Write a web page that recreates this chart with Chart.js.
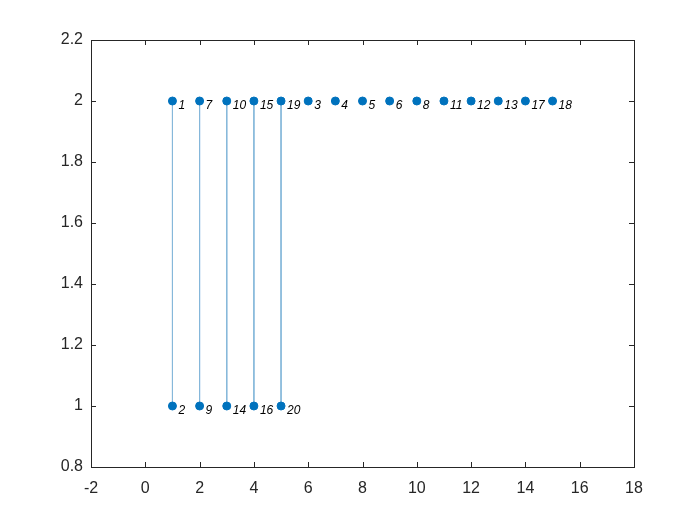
<!DOCTYPE html>
<html>
<head>
<meta charset="utf-8">
<script src="https://cdn.jsdelivr.net/npm/chart.js@4"></script>
<style>
  html, body { margin: 0; padding: 0; background: #fff; }
  #wrap { width: 700px; height: 525px; }
</style>
</head>
<body>
<div id="wrap"><canvas id="c"></canvas></div>
<script>
// --- datos del grafo ---
const topX = [1, 2, 3, 4, 5, 6, 7, 8, 9, 10, 11, 12, 13, 14, 15];
const topY = [2, 2, 2, 2, 2, 2, 2, 2, 2, 2, 2, 2, 2, 2, 2];
const topLabels = ['1', '7', '10', '15', '19', '3', '4', '5', '6', '8', '11', '12', '13', '17', '18'];

const bottomX = [1, 2, 3, 4, 5];
const bottomY = [1, 1, 1, 1, 1];
const bottomLabels = ['2', '9', '14', '16', '20'];

// aristas: [nodo arriba, nodo abajo] por etiqueta
const edges = [['1', '2'], ['7', '9'], ['10', '14'], ['15', '16'], ['19', '20']];

const xTicks = [-2, 0, 2, 4, 6, 8, 10, 12, 14, 16, 18];
const yTicks = [0.8, 1, 1.2, 1.4, 1.6, 1.8, 2, 2.2];

const NODE = '#0072BD';
const EDGE = '#86B8DA';
const AXIS = '#262626';
const FONT = '"Liberation Sans", Arial, sans-serif';

// construir puntos
const topPts = topX.map((x, i) => ({ x: x, y: topY[i], label: topLabels[i] }));
const bottomPts = bottomX.map((x, i) => ({ x: x, y: bottomY[i], label: bottomLabels[i] }));
const allPts = topPts.concat(bottomPts);
const findPt = lbl => allPts.find(p => p.label === lbl);

const edgeSets = edges.map(e => ({
  data: [findPt(e[0]), findPt(e[1])],
  showLine: true,
  borderColor: EDGE,
  borderWidth: 1,
  pointRadius: 0,
  order: 2
}));

// caja + ticks hacia dentro (estilo MATLAB)
const boxPlugin = {
  id: 'box',
  afterDraw(chart) {
    const { ctx, chartArea: a, scales } = chart;
    ctx.save();
    ctx.strokeStyle = AXIS;
    ctx.lineWidth = 1;
    ctx.strokeRect(a.left + 0.5, a.top + 0.5, a.right - a.left, a.bottom - a.top);
    ctx.beginPath();
    xTicks.forEach(v => {
      const px = Math.round(scales.x.getPixelForValue(v)) + 0.5;
      ctx.moveTo(px, a.bottom); ctx.lineTo(px, a.bottom - 5);
      ctx.moveTo(px, a.top); ctx.lineTo(px, a.top + 5);
    });
    yTicks.forEach(v => {
      const py = Math.round(scales.y.getPixelForValue(v)) + 0.5;
      ctx.moveTo(a.left, py); ctx.lineTo(a.left + 5, py);
      ctx.moveTo(a.right, py); ctx.lineTo(a.right - 5, py);
    });
    ctx.stroke();
    ctx.restore();
  }
};

// etiquetas de nodos
const labelPlugin = {
  id: 'nodeLabels',
  afterDatasetsDraw(chart) {
    const { ctx, scales } = chart;
    ctx.save();
    ctx.fillStyle = '#000';
    ctx.font = 'italic 12px ' + FONT;
    ctx.textAlign = 'left';
    ctx.textBaseline = 'middle';
    allPts.forEach(p => {
      const px = scales.x.getPixelForValue(p.x);
      const py = scales.y.getPixelForValue(p.y);
      ctx.fillText(p.label, px + 6, py + 5);
    });
    ctx.restore();
  }
};

new Chart(document.getElementById('c'), {
  type: 'scatter',
  data: {
    datasets: edgeSets.concat([{
      data: allPts,
      backgroundColor: NODE,
      borderColor: NODE,
      pointRadius: 4,
      pointHoverRadius: 4,
      order: 1
    }])
  },
  options: {
    responsive: true,
    maintainAspectRatio: false,
    animation: false,
    events: [],
    layout: { padding: { top: 40, right: 66, left: 0, bottom: 0 } },
    plugins: { legend: { display: false }, tooltip: { enabled: false } },
    scales: {
      x: {
        type: 'linear',
        min: -2, max: 18,
        afterBuildTicks: s => { s.ticks = xTicks.map(v => ({ value: v })); },
        afterFit: s => { s.height = 58; },
        grid: { display: false, drawTicks: false },
        border: { display: false },
        ticks: { color: AXIS, padding: 12, font: { family: FONT, size: 16 } }
      },
      y: {
        type: 'linear',
        min: 0.8, max: 2.2,
        afterBuildTicks: s => { s.ticks = yTicks.map(v => ({ value: v })); },
        afterFit: s => { s.width = 91; },
        grid: { display: false, drawTicks: false },
        border: { display: false },
        ticks: {
          color: AXIS, padding: 8,
          font: { family: FONT, size: 16 },
          callback: v => String(+v.toFixed(1))
        }
      }
    }
  },
  plugins: [boxPlugin, labelPlugin]
});
</script>
</body>
</html>
